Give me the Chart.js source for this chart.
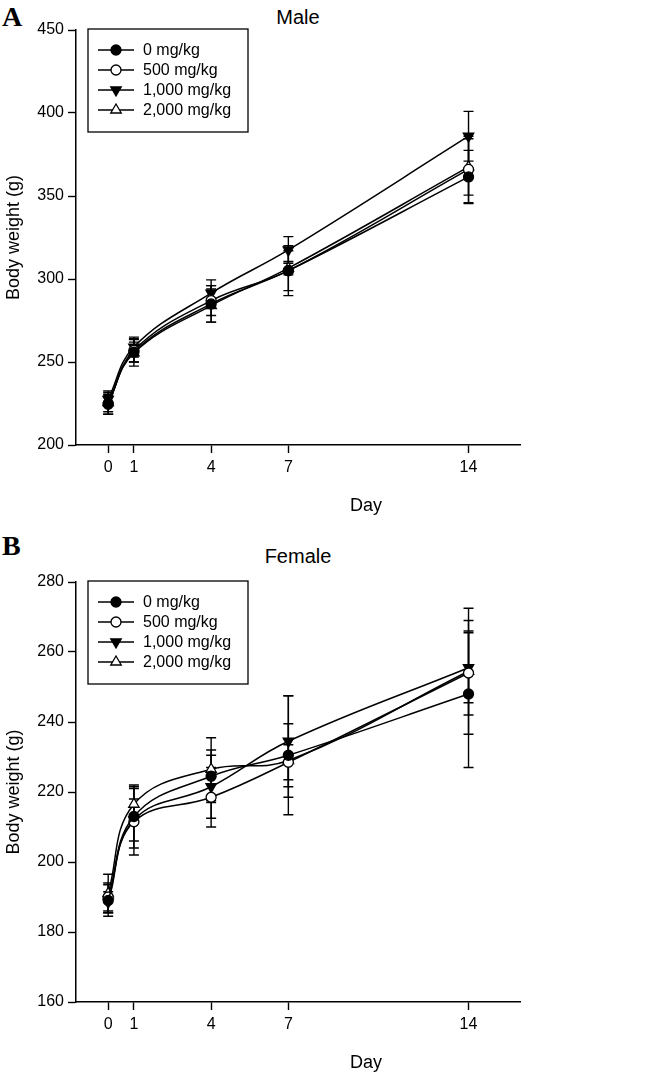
<!DOCTYPE html>
<html>
<head>
<meta charset="utf-8">
<script src="https://cdn.jsdelivr.net/npm/chart.js@4"></script>
<style>
  body { margin: 0; background: #fff; }
  #page { position: relative; width: 649px; height: 1074px; overflow: hidden; font-family: Arial, "Liberation Sans", sans-serif; color: #000; }
  canvas { position: absolute; left: 0; }
  .letter { position: absolute; left: 2px; font-family: "Liberation Serif", "Times New Roman", serif; font-weight: bold; font-size: 28px; line-height: 28px; }
  .ptitle { position: absolute; width: 444px; left: 76px; text-align: center; font-size: 20px; line-height: 22px; }
  .xtitle { position: absolute; width: 100px; left: 316px; text-align: center; font-size: 18px; line-height: 20px; }
</style>
</head>
<body>
<div id="page">
  <div class="letter" style="top:3px;">A</div>
  <div class="ptitle" style="top:6px;">Male</div>
  <canvas id="male" width="649" height="530" style="top:0;"></canvas>
  <div class="xtitle" style="top:495px;">Day</div>
  <div class="letter" style="top:532px;">B</div>
  <div class="ptitle" style="top:545px;">Female</div>
  <canvas id="female" width="649" height="544" style="top:530px;"></canvas>
  <div class="xtitle" style="top:1052px;">Day</div>
</div>
<script>
// sampling days and tick labels
const days = [0, 1, 4, 7, 14];
const dayTicks = [0, 1, 4, 7, 14];
const doseLabels = ['0 mg/kg', '500 mg/kg', '1,000 mg/kg', '2,000 mg/kg'];

// Male body weight (g), mean and SD
const male0 = [225, 256, 285, 305, 361.5];
const male500 = [224.5, 257, 287, 305, 366];
const male1000 = [227.5, 259, 291.5, 317.5, 386];
const male2000 = [225.5, 255.5, 284, 306.5, 367.5];
const male0Sd = [5, 6, 11, 15, 16];
const male500Sd = [6, 7, 9, 12, 20];
const male1000Sd = [4, 6, 8, 8, 15];
const male2000Sd = [7, 8, 10, 4, 17];

// Female body weight (g), mean and SD
const female0 = [189, 213, 224.5, 230.5, 248];
const female500 = [190, 211.5, 218.5, 228.5, 254];
const female1000 = [188.5, 212, 221.5, 234.5, 255.5];
const female2000 = [191, 216.5, 226.5, 229, 254.5];
const female0Sd = [4.5, 9, 7.5, 17, 21];
const female500Sd = [4, 9.5, 8.5, 5, 12];
const female1000Sd = [3, 6, 9, 13, 10];
const female2000Sd = [5.5, 5, 9, 10.5, 18];

Chart.defaults.font.family = 'Arial, "Liberation Sans", sans-serif';
Chart.defaults.color = '#000';

// marker look per dose group
const markers = [
  { pointStyle: 'circle', rotation: 0, fill: '#000', radius: 5 },
  { pointStyle: 'circle', rotation: 0, fill: '#fff', radius: 5 },
  { pointStyle: 'triangle', rotation: 180, fill: '#000', radius: 6 },
  { pointStyle: 'triangle', rotation: 0, fill: '#fff', radius: 6 }
];

function makeDatasets(means, sds) {
  return means.map((m, k) => ({
    label: doseLabels[k],
    data: days.map((d, i) => ({ x: d, y: m[i] })),
    sd: sds[k],
    borderColor: '#000',
    borderWidth: 1.5,
    tension: 0.4,
    pointStyle: markers[k].pointStyle,
    pointRotation: markers[k].rotation,
    pointRadius: markers[k].radius,
    pointBackgroundColor: markers[k].fill,
    pointBorderColor: '#000',
    pointBorderWidth: 1.3,
    fill: false
  }));
}

const errorBars = {
  id: 'errorBars',
  beforeDatasetsDraw(chart) {
    const { ctx, scales: { x, y } } = chart;
    ctx.save();
    ctx.strokeStyle = '#000';
    ctx.lineWidth = 1.4;
    chart.data.datasets.forEach(ds => {
      ds.data.forEach((p, i) => {
        const px = x.getPixelForValue(p.x);
        const top = y.getPixelForValue(p.y + ds.sd[i]);
        const bot = y.getPixelForValue(p.y - ds.sd[i]);
        ctx.beginPath();
        ctx.moveTo(px, top); ctx.lineTo(px, bot);
        ctx.moveTo(px - 5, top); ctx.lineTo(px + 5, top);
        ctx.moveTo(px - 5, bot); ctx.lineTo(px + 5, bot);
        ctx.stroke();
      });
    });
    ctx.restore();
  }
};

function drawMarker(ctx, m, x, y) {
  ctx.beginPath();
  if (m.pointStyle === 'circle') {
    ctx.arc(x, y, m.radius, 0, Math.PI * 2);
  } else {
    const r = m.radius, s = m.rotation ? -1 : 1;
    ctx.moveTo(x, y - s * r);
    ctx.lineTo(x + r * 0.87, y + s * r * 0.5);
    ctx.lineTo(x - r * 0.87, y + s * r * 0.5);
    ctx.closePath();
  }
  ctx.fillStyle = m.fill;
  ctx.fill();
  ctx.stroke();
}

// boxed legend in the upper left of the plot
const boxLegend = {
  id: 'boxLegend',
  afterDraw(chart) {
    const { ctx, chartArea } = chart;
    const bx = chartArea.left + 12, by = chartArea.top - 1, bw = 160, bh = 103;
    ctx.save();
    ctx.strokeStyle = '#000';
    ctx.lineWidth = 1.3;
    ctx.strokeRect(bx, by, bw, bh);
    ctx.font = '16px Arial, "Liberation Sans", sans-serif';
    ctx.textBaseline = 'middle';
    chart.data.datasets.forEach((ds, k) => {
      const ly = by + 21 + k * 20;
      ctx.lineWidth = 1.5;
      ctx.beginPath();
      ctx.moveTo(bx + 10, ly); ctx.lineTo(bx + 46, ly);
      ctx.stroke();
      ctx.lineWidth = 1.3;
      drawMarker(ctx, markers[k], bx + 28, ly);
      ctx.fillStyle = '#000';
      ctx.fillText(ds.label, bx + 55, ly + 1);
    });
    ctx.restore();
  }
};

function makeChart(id, datasets, yMin, yMax, yStep, padTop, xHeight) {
  return new Chart(document.getElementById(id), {
    type: 'line',
    data: { datasets },
    options: {
      responsive: false,
      animation: false,
      layout: { padding: { top: padTop, right: 129, left: 0, bottom: 0 } },
      plugins: { legend: { display: false }, tooltip: { enabled: false } },
      scales: {
        x: {
          type: 'linear',
          min: -1.25,
          max: 16,
          afterBuildTicks: s => { s.ticks = dayTicks.map(v => ({ value: v })); },
          afterFit: s => { s.height = xHeight; },
          ticks: { font: { size: 16 }, padding: 5, maxRotation: 0 },
          grid: { drawOnChartArea: false, color: '#000', tickLength: 8, tickWidth: 1.4 },
          border: { color: '#000', width: 1.5 }
        },
        y: {
          min: yMin,
          max: yMax,
          afterFit: s => { s.width = 76; },
          ticks: { stepSize: yStep, font: { size: 16 }, padding: 4 },
          grid: { drawOnChartArea: false, color: '#000', tickLength: 8, tickWidth: 1.4 },
          border: { color: '#000', width: 1.5 },
          title: { display: true, text: 'Body weight (g)', font: { size: 18 }, padding: { top: 3, bottom: 0 } }
        }
      }
    },
    plugins: [errorBars, boxLegend]
  });
}

makeChart('male',
  makeDatasets([male0, male500, male1000, male2000], [male0Sd, male500Sd, male1000Sd, male2000Sd]),
  200, 450, 50, 30, 85);
makeChart('female',
  makeDatasets([female0, female500, female1000, female2000], [female0Sd, female500Sd, female1000Sd, female2000Sd]),
  160, 280, 20, 52, 72);
</script>
</body>
</html>
